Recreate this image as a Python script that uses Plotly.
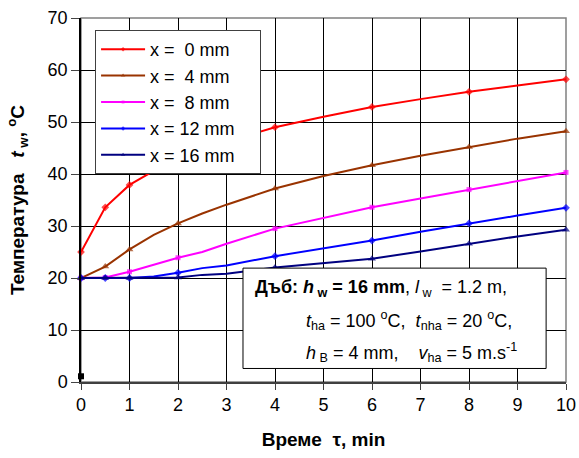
import plotly.graph_objects as go

# ---- data ----
time_min = [0, 0.5, 1, 1.5, 2, 2.5, 3, 4, 5, 6, 7, 8, 9, 10]
marker_times = [0, 0.5, 1, 2, 4, 6, 8, 10]

t_x0 = [25.0, 33.6, 37.9, 40.6, 42.8, 44.6, 46.2, 49.0, 51.0, 52.9, 54.4, 55.8, 57.0, 58.2]
t_x4 = [20.0, 22.2, 25.5, 28.3, 30.5, 32.4, 34.1, 37.2, 39.6, 41.7, 43.5, 45.2, 46.8, 48.2]
t_x8 = [20.0, 20.1, 21.2, 22.5, 23.9, 25.0, 26.6, 29.5, 31.6, 33.6, 35.3, 37.0, 38.7, 40.3]
t_x12 = [20.0, 20.0, 20.0, 20.3, 21.0, 21.9, 22.4, 24.2, 25.7, 27.2, 28.9, 30.5, 32.0, 33.5]
t_x16 = [20.0, 20.0, 20.0, 20.0, 20.1, 20.6, 20.8, 22.0, 22.8, 23.7, 25.1, 26.6, 28.0, 29.3]

series_names = ["x =\u00a0\u00a00 mm", "x =\u00a0\u00a04 mm", "x =\u00a0\u00a08 mm", "x = 12 mm", "x = 16 mm"]
series_values = [t_x0, t_x4, t_x8, t_x12, t_x16]

stray_x = [0]
stray_y = [1.1]

x_ticks = list(range(0, 11))
y_ticks = list(range(0, 71, 10))

# ---- styles ----
colors = ["#FF0000", "#993300", "#FF00FF", "#0000FF", "#000080"]
symbols = ["diamond", "triangle-up", "square", "diamond", "triangle-up"]
msizes = [6, 7, 5, 6, 7]

FONT = "Liberation Sans, Arial, sans-serif"

fig = go.Figure()
for i, (name, vals) in enumerate(zip(series_names, series_values)):
    sizes = [msizes[i] if t in marker_times else 0 for t in time_min]
    fig.add_trace(go.Scatter(
        x=time_min, y=vals, name=name + "\u00a0\u00a0\u00a0\u00a0", mode="lines+markers",
        line=dict(color=colors[i], width=2),
        marker=dict(symbol=symbols[i], size=sizes, color=colors[i], line=dict(width=0)),
        cliponaxis=False, legendgroup=f"g{i}",
    ))

fig.add_trace(go.Scatter(
    x=stray_x, y=stray_y, mode="markers", showlegend=False,
    marker=dict(symbol="square", size=6, color="black"), cliponaxis=False,
))

# annotation box
fig.add_shape(type="rect", xref="x", yref="y", x0=3.34, x1=9.59, y0=2.6, y1=21.9,
              line=dict(color="black", width=1), fillcolor="white", layer="above")
# gray plot border (top/right)
fig.add_shape(type="rect", xref="paper", yref="paper", x0=0, x1=1, y0=0, y1=1,
              line=dict(color="#808080", width=1.5), layer="between")

ann_font = dict(family=FONT, size=18, color="black")
fig.add_annotation(xref="x", yref="y", x=3.55, y=18.0, xanchor="left", yanchor="middle",
                   showarrow=False, font=ann_font,
                   text="<b>Дъб: <i>h</i><sub> w</sub> = 16 mm</b>, <i>l</i><sub> w</sub>\u00a0 = 1.2 m,")
fig.add_annotation(xref="x", yref="y", x=4.6, y=11.8, xanchor="left", yanchor="middle",
                   showarrow=False, font=ann_font,
                   text="<i>t</i><sub>ha</sub> = 100 <sup>o</sup>C,\u00a0 <i>t</i><sub>nha</sub> = 20 <sup>o</sup>C,")
fig.add_annotation(xref="x", yref="y", x=4.6, y=5.6, xanchor="left", yanchor="middle",
                   showarrow=False, font=ann_font,
                   text="<i>h</i><sub> B</sub> = 4 mm,\u00a0\u00a0\u00a0 <i>v</i><sub>ha</sub> = 5 m.s<sup>-1</sup>")

fig.update_layout(
    width=579, height=458,
    margin=dict(l=81, r=13, t=18, b=76),
    paper_bgcolor="white", plot_bgcolor="white",
    font=dict(family=FONT, size=18, color="black"),
    showlegend=True,
    legend=dict(x=0.029, y=0.967, xanchor="left", yanchor="top",
                bgcolor="white", bordercolor="#404040", borderwidth=1,
                font=dict(family=FONT, size=18), tracegroupgap=0, itemwidth=44),
    xaxis=dict(range=[0, 10], tickvals=x_ticks, showgrid=True, gridcolor="black", gridwidth=1,
               showline=True, linecolor="#404040", linewidth=1.5, ticks="outside", ticklen=6,
               tickcolor="#404040", zeroline=False, automargin=False,
               tickfont=dict(size=18),
               title=dict(text="<b>Време\u00a0 τ, min</b>", font=dict(size=19), standoff=18)),
    yaxis=dict(range=[0, 70], tickvals=y_ticks, showgrid=True, gridcolor="black", gridwidth=1,
               showline=True, linecolor="black", linewidth=1.5, ticks="outside", ticklen=8,
               zeroline=False, automargin=False, tickfont=dict(size=18),
               title=dict(text="<b>Температура\u00a0\u00a0 <i>t</i><sub> w</sub>, <sup>o</sup>C</b>",
                          font=dict(size=19), standoff=18)),
)

fig.write_html("out.html")
